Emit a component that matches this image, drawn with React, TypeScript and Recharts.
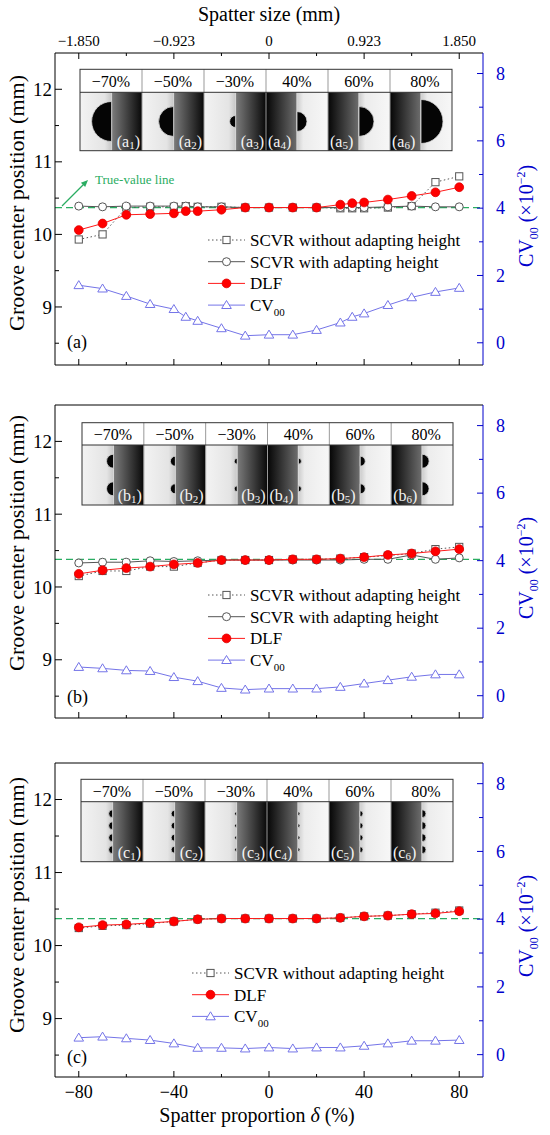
import React from "react";
import { ComposedChart, Line, XAxis, YAxis, ReferenceLine, Legend } from "recharts";

const SERIF = '"Liberation Serif", "Times New Roman", serif';
const BLUE = "#0000cc";
const CV_COLOR = "#7474e8";
const GRAY = "#555555";
const RED = "#ff1a1a";
const GREEN = "#2aad62";

// spatter proportion delta (%)
const deltaA = [-80, -70, -60, -50, -40, -35, -30, -20, -10, 0, 10, 20, 30, 35, 40, 50, 60, 70, 80];
const deltaBC = [-80, -70, -60, -50, -40, -30, -20, -10, 0, 10, 20, 30, 40, 50, 60, 70, 80];

// panel (a): groove center position (mm) and CV00 (x10^-2)
const scvrNoA = [9.93, 10.0, 10.37, 10.38, 10.38, 10.39, 10.38, 10.38, 10.37, 10.37, 10.37, 10.37, 10.36, 10.36, 10.36, 10.37, 10.39, 10.72, 10.8];
const scvrWithA = [10.39, 10.38, 10.39, 10.39, 10.39, 10.39, 10.38, 10.38, 10.37, 10.37, 10.37, 10.37, 10.37, 10.37, 10.37, 10.38, 10.39, 10.38, 10.38];
const dlfA = [10.06, 10.15, 10.27, 10.28, 10.29, 10.32, 10.32, 10.34, 10.37, 10.37, 10.37, 10.37, 10.41, 10.43, 10.44, 10.48, 10.53, 10.58, 10.65];
const cvA = [1.71, 1.61, 1.39, 1.15, 1.0, 0.77, 0.65, 0.43, 0.21, 0.24, 0.24, 0.38, 0.6, 0.77, 0.87, 1.12, 1.35, 1.51, 1.63];

// panel (b)
const scvrNoB = [10.15, 10.22, 10.22, 10.28, 10.28, 10.33, 10.37, 10.37, 10.37, 10.38, 10.38, 10.39, 10.41, 10.43, 10.46, 10.52, 10.55];
const scvrWithB = [10.33, 10.34, 10.34, 10.36, 10.35, 10.36, 10.37, 10.37, 10.37, 10.37, 10.37, 10.37, 10.38, 10.38, 10.44, 10.38, 10.4];
const dlfB = [10.18, 10.23, 10.26, 10.28, 10.31, 10.33, 10.37, 10.37, 10.37, 10.38, 10.38, 10.39, 10.41, 10.44, 10.46, 10.49, 10.52];
const cvB = [0.85, 0.81, 0.75, 0.73, 0.55, 0.43, 0.23, 0.18, 0.21, 0.21, 0.21, 0.26, 0.36, 0.46, 0.56, 0.63, 0.63];

// panel (c)
const scvrNoC = [10.24, 10.27, 10.28, 10.3, 10.33, 10.36, 10.37, 10.37, 10.37, 10.37, 10.37, 10.38, 10.4, 10.41, 10.43, 10.45, 10.48];
const dlfC = [10.25, 10.28, 10.29, 10.31, 10.33, 10.36, 10.37, 10.37, 10.37, 10.37, 10.37, 10.38, 10.4, 10.41, 10.43, 10.44, 10.47];
const cvC = [0.5, 0.53, 0.48, 0.43, 0.33, 0.2, 0.2, 0.18, 0.21, 0.18, 0.21, 0.21, 0.26, 0.33, 0.41, 0.41, 0.43];

const trueValues = [10.37, 10.38, 10.37];

// axes
const xTicks = [-80, -60, -40, -20, 0, 20, 40, 60, 80];
const xMajor = [-80, -40, 0, 40, 80];
const sizeLabels = ["−1.850", "−0.923", "0", "0.923", "1.850"];
const leftTicks = [8.5, 9, 9.5, 10, 10.5, 11, 11.5, 12];
const rightTicks = [0, 1, 2, 3, 4, 5, 6, 7, 8];

// insets
const insetLabels = ["−70%", "−50%", "−30%", "40%", "60%", "80%"];
const insetDeltas = [-70, -50, -30, 40, 60, 80];

const seriesInfo: Record<string, { name: string; stroke: string; dash?: string; marker: string }> = {
  scvrNo: { name: "SCVR without adapting height", stroke: GRAY, dash: "1.5 2.5", marker: "square" },
  scvrWith: { name: "SCVR with adapting height", stroke: GRAY, marker: "circle" },
  dlf: { name: "DLF", stroke: RED, marker: "dot" },
  cv: { name: "CV", stroke: CV_COLOR, marker: "triangle" },
};

const fmt = (v: number) => String(v).replace("-", "−");

function Marker({ kind, cx, cy }: { kind: string; cx: number; cy: number }) {
  if (cx == null || cy == null) return null;
  if (kind === "square")
    return <rect x={cx - 3.6} y={cy - 3.6} width={7.2} height={7.2} fill="#fff" stroke={GRAY} strokeWidth={1} />;
  if (kind === "circle") return <circle cx={cx} cy={cy} r={4} fill="#fff" stroke={GRAY} strokeWidth={1} />;
  if (kind === "dot") return <circle cx={cx} cy={cy} r={4.4} fill="#ff0000" stroke="#e00000" strokeWidth={0.8} />;
  return (
    <path
      d={`M${cx},${cy - 4.6} L${cx + 4.8},${cy + 3.4} L${cx - 4.8},${cy + 3.4} Z`}
      fill="#fff"
      stroke={CV_COLOR}
      strokeWidth={1}
    />
  );
}

const dotFor = (kind: string) => (p: any) => <Marker key={`${kind}-${p.index}`} kind={kind} cx={p.cx} cy={p.cy} />;

// ticks point inward; tickSize/tickMargin are 0 so x/y is the axis line
const bottomTick = (labels: boolean) => (p: any) => {
  const v = p.payload.value;
  const major = xMajor.includes(v);
  return (
    <g>
      <line x1={p.x} x2={p.x} y1={p.y} y2={p.y - (major ? 6 : 3)} stroke="#000" />
      {labels && major && (
        <text x={p.x} y={p.y + 21} textAnchor="middle" fontSize={18} fontFamily={SERIF} fill="#000">
          {fmt(v)}
        </text>
      )}
    </g>
  );
};

const topTick = (p: any) => {
  const v = p.payload.value;
  const mi = xMajor.indexOf(v);
  return (
    <g>
      <line x1={p.x} x2={p.x} y1={p.y} y2={p.y + (mi >= 0 ? 6 : 3)} stroke="#000" />
      {mi >= 0 && (
        <text x={p.x} y={p.y - 7} textAnchor="middle" fontSize={15} fontFamily={SERIF} fill="#000">
          {sizeLabels[mi]}
        </text>
      )}
    </g>
  );
};

const leftTick = (p: any) => {
  const v = p.payload.value;
  const major = Number.isInteger(v);
  return (
    <g>
      <line x1={p.x} x2={p.x + (major ? 7 : 4)} y1={p.y} y2={p.y} stroke="#000" />
      {major && (
        <text x={p.x - 3} y={p.y} dy="0.35em" textAnchor="end" fontSize={19} fontFamily={SERIF} fill="#000">
          {v}
        </text>
      )}
    </g>
  );
};

const rightTick = (p: any) => {
  const v = p.payload.value;
  const major = v % 2 === 0;
  return (
    <g>
      <line x1={p.x} x2={p.x - (major ? 6 : 4)} y1={p.y} y2={p.y} stroke={BLUE} />
      {major && (
        <text x={p.x + 13} y={p.y} dy="0.35em" textAnchor="start" fontSize={18} fontFamily={SERIF} fill={BLUE}>
          {v}
        </text>
      )}
    </g>
  );
};

function LegendBox({ keys }: { keys: string[] }) {
  const rowH = 21.7;
  return (
    <svg width={280} height={keys.length * rowH + 4} style={{ display: "block", overflow: "visible" }}>
      {keys.map((k, i) => {
        const s = seriesInfo[k];
        const y = 11 + i * rowH;
        return (
          <g key={k}>
            <line x1={0} x2={37} y1={y} y2={y} stroke={s.stroke} strokeDasharray={s.dash} strokeWidth={1} />
            <Marker kind={s.marker} cx={18.5} cy={y} />
            <text x={42} y={y + 6} fontSize={17} fontFamily={SERIF} fill="#000">
              {s.name}
              {k === "cv" && (
                <tspan fontSize={11} dy={5}>
                  00
                </tspan>
              )}
            </text>
          </g>
        );
      })}
    </svg>
  );
}

type PanelProps = {
  top: number;
  height: number;
  topH: number;
  bottomH: number;
  delta: number[];
  scvrNo: number[];
  scvrWith?: number[];
  dlf: number[];
  cv: number[];
  truth: number;
  topLabels: boolean;
  bottomLabels: boolean;
  legendLeft: number;
  legendTop: number;
};

function Panel(props: PanelProps) {
  const { delta, scvrNo, scvrWith, dlf, cv } = props;
  const rows = delta.map((d, i) => ({
    d,
    scvrNo: scvrNo[i],
    scvrWith: scvrWith ? scvrWith[i] : undefined,
    dlf: dlf[i],
    cv: cv[i],
  }));
  const keys = scvrWith ? ["scvrNo", "scvrWith", "dlf", "cv"] : ["scvrNo", "dlf", "cv"];
  return (
    <div style={{ position: "absolute", left: 0, top: props.top }}>
      <ComposedChart width={550} height={props.height} data={rows} margin={{ top: 0, right: 0, bottom: 0, left: 0 }}>
        <XAxis
          xAxisId="b"
          dataKey="d"
          type="number"
          domain={[-90, 90]}
          ticks={xTicks}
          interval={0}
          allowDataOverflow
          height={props.bottomH}
          tickSize={0}
          tickMargin={0}
          tickLine={false}
          axisLine={{ stroke: "#000" }}
          tick={bottomTick(props.bottomLabels)}
        />
        <XAxis
          xAxisId="t"
          dataKey="d"
          type="number"
          orientation="top"
          domain={[-90, 90]}
          ticks={xTicks}
          interval={0}
          allowDataOverflow
          height={props.topH}
          tickSize={0}
          tickMargin={0}
          tickLine={false}
          axisLine={{ stroke: "#000" }}
          tick={props.topLabels ? topTick : false}
        />
        <YAxis
          yAxisId="l"
          type="number"
          domain={[8.2, 12.5]}
          ticks={leftTicks}
          interval={0}
          allowDataOverflow
          width={55}
          tickSize={0}
          tickMargin={0}
          tickLine={false}
          axisLine={{ stroke: "#000" }}
          tick={leftTick}
        />
        <YAxis
          yAxisId="r"
          orientation="right"
          type="number"
          domain={[-0.66, 8.61]}
          ticks={rightTicks}
          interval={0}
          allowDataOverflow
          width={67}
          tickSize={0}
          tickMargin={0}
          tickLine={false}
          axisLine={{ stroke: BLUE }}
          tick={rightTick}
        />
        <ReferenceLine xAxisId="b" yAxisId="l" y={props.truth} stroke={GREEN} strokeDasharray="7 4" strokeWidth={1.2} />
        <Line
          xAxisId="b"
          yAxisId="l"
          dataKey="scvrNo"
          stroke={GRAY}
          strokeWidth={1}
          strokeDasharray="1.5 2.5"
          dot={dotFor("square")}
          activeDot={false}
          isAnimationActive={false}
        />
        {scvrWith && (
          <Line
            xAxisId="b"
            yAxisId="l"
            dataKey="scvrWith"
            stroke={GRAY}
            strokeWidth={1}
            dot={dotFor("circle")}
            activeDot={false}
            isAnimationActive={false}
          />
        )}
        <Line
          xAxisId="b"
          yAxisId="l"
          dataKey="dlf"
          stroke={RED}
          strokeWidth={1}
          dot={dotFor("dot")}
          activeDot={false}
          isAnimationActive={false}
        />
        <Line
          xAxisId="b"
          yAxisId="r"
          dataKey="cv"
          stroke={CV_COLOR}
          strokeWidth={1}
          dot={dotFor("triangle")}
          activeDot={false}
          isAnimationActive={false}
        />
        <Legend
          layout="vertical"
          align="center"
          verticalAlign="middle"
          wrapperStyle={{ left: props.legendLeft, top: props.legendTop, width: 280 }}
          content={() => <LegendBox keys={keys} />}
        />
      </ComposedChart>
    </div>
  );
}

// inset of six micrographs (drawn schematically)
function Inset({ x0, y0, x1, yh, y1, letter, radii, centers }: any) {
  const cw = (x1 - x0) / 6;
  const ih = y1 - yh;
  return (
    <g>
      {insetDeltas.map((d, i) => {
        const cx0 = x0 + i * cw;
        const neg = d < 0;
        const bx = cx0 + cw * (neg ? 0.51 : 0.5);
        const r = radii[i];
        return (
          <g key={i}>
            <rect x={cx0} y={y0} width={cw} height={yh - y0} fill="#fff" />
            <text
              x={cx0 + cw / 2 + (i === 5 ? 4 : 0)}
              y={yh - 5}
              textAnchor="middle"
              fontSize={16}
              fontFamily={SERIF}
              fill="#000"
            >
              {insetLabels[i]}
            </text>
            <rect x={cx0} y={yh} width={cw} height={ih} fill={neg ? "url(#gNeg)" : "url(#gPos)"} />
            <line x1={bx} x2={bx} y1={yh} y2={y1} stroke="#e6e6e6" strokeWidth={0.8} />
            {centers.map((c: number, j: number) => {
              const cy = yh + ih * c;
              return (
                <path
                  key={j}
                  d={`M${bx},${cy - r} A${r},${r} 0 0 ${neg ? 0 : 1} ${bx},${cy + r} Z`}
                  fill="#050505"
                  stroke="#dcdcdc"
                  strokeWidth={0.8}
                />
              );
            })}
            <text
              x={neg ? cx0 + cw - 2 : cx0 + 2}
              y={y1 - 4}
              textAnchor={neg ? "end" : "start"}
              fontSize={16}
              fontFamily={SERIF}
              fill="#f4f4f4"
            >
              ({letter}
              <tspan fontSize={11} dy={2}>
                {i + 1}
              </tspan>
              <tspan dy={-2}>)</tspan>
            </text>
            {i > 0 && <line x1={cx0} x2={cx0} y1={y0} y2={y1} stroke="#999" strokeWidth={1} />}
          </g>
        );
      })}
      <line x1={x0} x2={x1} y1={yh} y2={yh} stroke="#333" strokeWidth={1} />
      <rect x={x0} y={y0} width={x1 - x0} height={y1 - y0} fill="none" stroke="#333" strokeWidth={1} />
    </g>
  );
}

function Overlay() {
  const leftTitle = (cy: number) => (
    <text transform={`translate(24, ${cy}) rotate(-90)`} textAnchor="middle" fontSize={22} fontFamily={SERIF} fill="#000">
      Groove center position (mm)
    </text>
  );
  const rightTitle = (cy: number) => (
    <text transform={`translate(533, ${cy}) rotate(-90)`} textAnchor="middle" fontSize={20} fontFamily={SERIF} fill={BLUE}>
      CV
      <tspan fontSize={12} dy={5}>
        00
      </tspan>
      <tspan dy={-5}> (×10</tspan>
      <tspan fontSize={12} dy={-8}>
        −2
      </tspan>
      <tspan dy={8}>)</tspan>
    </text>
  );
  const label = (t: string, y: number) => (
    <text x={67} y={y} fontSize={18} fontFamily={SERIF} fill="#000">
      {t}
    </text>
  );
  return (
    <svg width={550} height={1135} style={{ position: "absolute", left: 0, top: 0, pointerEvents: "none" }}>
      <defs>
        <linearGradient id="gNeg" x1="0" x2="1" y1="0" y2="0">
          <stop offset="0" stopColor="#f3f3f3" />
          <stop offset="0.4" stopColor="#e4e4e4" />
          <stop offset="0.5" stopColor="#c9c9c9" />
          <stop offset="0.52" stopColor="#7a7a7a" />
          <stop offset="1" stopColor="#080808" />
        </linearGradient>
        <linearGradient id="gPos" x1="0" x2="1" y1="0" y2="0">
          <stop offset="0" stopColor="#050505" />
          <stop offset="0.48" stopColor="#6a6a6a" />
          <stop offset="0.51" stopColor="#cfcfcf" />
          <stop offset="0.6" stopColor="#ececec" />
          <stop offset="1" stopColor="#f7f7f7" />
        </linearGradient>
      </defs>
      <text x={269} y={21} textAnchor="middle" fontSize={20} fontFamily={SERIF} fill="#000">
        Spatter size (mm)
      </text>
      <text x={257} y={1122} textAnchor="middle" fontSize={20} fontFamily={SERIF} fill="#000">
        Spatter proportion <tspan fontStyle="italic">δ</tspan> (%)
      </text>
      {leftTitle(203)}
      {leftTitle(543)}
      {leftTitle(905)}
      {rightTitle(216)}
      {rightTitle(568)}
      {rightTitle(926)}
      {label("(a)", 348)}
      {label("(b)", 703)}
      {label("(c)", 1063)}
      <line x1={62} y1={206} x2={84} y2={184} stroke={GREEN} strokeWidth={1.2} />
      <polygon points="88,180 85.2,187.1 80.9,182.8" fill={GREEN} />
      <text x={95} y={184} fontSize={13} fontFamily={SERIF} fill={GREEN}>
        True-value line
      </text>
      <Inset x0={80} y0={69.3} x1={452} yh={92.3} y1={150.7} letter="a" radii={[20, 15, 6, 10, 15, 22]} centers={[0.5]} />
      <Inset x0={82} y0={422.7} x1={453} yh={445} y1={505} letter="b" radii={[7, 5, 3, 3, 5, 7]} centers={[0.27, 0.73]} />
      <Inset x0={81} y0={779.3} x1={453} yh={801.7} y1={861.7} letter="c" radii={[4, 3.5, 2, 2, 3, 4]} centers={[0.2, 0.4, 0.6, 0.8]} />
    </svg>
  );
}

export default function App() {
  return (
    <div style={{ position: "absolute", left: 0, top: 0, width: 550, height: 1135, background: "#fff", fontFamily: SERIF }}>
      <Panel
        top={0}
        height={370}
        topH={53}
        bottomH={5}
        delta={deltaA}
        scvrNo={scvrNoA}
        scvrWith={scvrWithA}
        dlf={dlfA}
        cv={cvA}
        truth={trueValues[0]}
        topLabels
        bottomLabels={false}
        legendLeft={208}
        legendTop={229}
      />
      <Panel
        top={395}
        height={330}
        topH={10}
        bottomH={7}
        delta={deltaBC}
        scvrNo={scvrNoB}
        scvrWith={scvrWithB}
        dlf={dlfB}
        cv={cvB}
        truth={trueValues[1]}
        topLabels={false}
        bottomLabels={false}
        legendLeft={208}
        legendTop={189}
      />
      <Panel
        top={753}
        height={382}
        topH={10}
        bottomH={58}
        delta={deltaBC}
        scvrNo={scvrNoC}
        dlf={dlfC}
        cv={cvC}
        truth={trueValues[2]}
        topLabels={false}
        bottomLabels
        legendLeft={192}
        legendTop={209}
      />
      <Overlay />
    </div>
  );
}
